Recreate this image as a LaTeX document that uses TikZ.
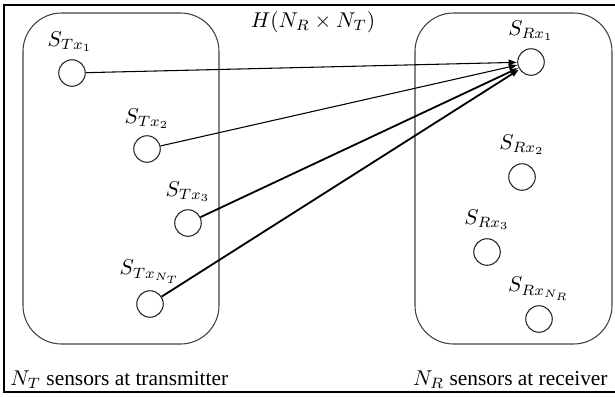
\documentclass[tikz,border=0pt]{standalone}
\usepackage[no-math]{fontspec}
\setmainfont{Liberation Serif}
\usetikzlibrary{arrows.meta}
\begin{document}
\begin{tikzpicture}[x=0.4675pt,y=-0.4675pt,
  sensor/.style={circle,draw=black!85,line width=0.5pt,minimum size=12.4pt,inner sep=0pt},
  group/.style={draw=black!75,line width=0.5pt,rounded corners=18pt},
  lbl/.style={inner sep=0pt,font=\normalsize},
  link/.style={-{Latex[length=4pt,width=3.2pt]},line width=0.5pt},
  boldlink/.style={-{Latex[length=4pt,width=3.2pt]},line width=0.85pt}]
\useasboundingbox (0,0) rectangle (615,396);
% outer frame (right side outside picture)
\draw[line width=1.1pt] (617,5) -- (4,5) -- (4,392) -- (617,392);
% groups
\draw[group] (23,13) rectangle (219,344);
\draw[group] (415,13) rectangle (612,344);
% transmitter sensors
\node[sensor] (tx1) at (72,73) {};
\node[sensor] (tx2) at (147,149) {};
\node[sensor] (tx3) at (188,223) {};
\node[sensor] (txn) at (150,304) {};
\node[lbl] (ltx1) at (70,42) {$S_{Tx_1}$};
\node[lbl] (ltx2) at (147,119) {$S_{Tx_2}$};
\node[lbl] (ltx3) at (188,192) {$S_{Tx_3}$};
\node[lbl] (ltxn) at (150,272) {$S_{Tx_{N_T}}$};
% receiver sensors
\node[sensor] (rx1) at (531,62) {};
\node[sensor] (rx2) at (522,177) {};
\node[sensor] (rx3) at (487,252) {};
\node[sensor] (rxn) at (539,319) {};
\node[lbl] (lrx1) at (531,31) {$S_{Rx_1}$};
\node[lbl] (lrx2) at (522,145) {$S_{Rx_2}$};
\node[lbl] (lrx3) at (487,220) {$S_{Rx_3}$};
\node[lbl] (lrxn) at (539,289) {$S_{Rx_{N_R}}$};
% title
\node[lbl] (title) at (313,22) {$H(N_R\times N_T)$};
% links
\draw[link] (tx1) -- (rx1);
\draw[link] (tx2) -- (rx1);
\draw[boldlink] (tx3) -- (rx1);
\draw[boldlink] (txn) -- (rx1);
% captions
\node[lbl,anchor=west] (capt) at (10,380) {$N_T$ sensors at transmitter};
\node[lbl,anchor=east] (capr) at (608,380) {$N_R$ sensors at receiver};
\end{tikzpicture}
\end{document}
